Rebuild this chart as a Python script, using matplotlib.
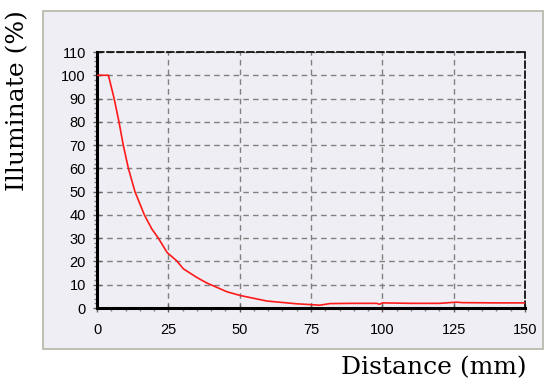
import matplotlib
matplotlib.use('Agg')
import matplotlib.pyplot as plt
from matplotlib.patches import Rectangle
from matplotlib.ticker import MultipleLocator

# Illumination vs distance
distance = [0, 4.0, 6.0, 7.7, 9.2, 11.0, 13.3, 16.6, 19.2, 21.5, 24.6, 27.9,
            30.3, 34.9, 38.4, 45.5, 50.1, 59.5, 70, 75.7, 78, 81.7, 90,
            98, 99, 100, 110, 120, 126, 128, 140, 150]
illuminate = [100, 100, 90, 80, 70, 60, 50, 40, 34, 30, 23.8, 20.3,
              16.8, 13.2, 10.8, 7.0, 5.4, 3.0, 1.8, 1.4, 1.2, 1.9, 2.0,
              2.0, 1.6, 2.2, 2.0, 2.0, 2.5, 2.3, 2.2, 2.2]

x_ticks = [0, 25, 50, 75, 100, 125, 150]
y_ticks = list(range(0, 111, 10))

fig = plt.figure(figsize=(5.54, 3.87), dpi=100)
fig.patch.set_facecolor('white')

# light panel behind the plot
panel = Rectangle((43 / 554, 1 - 349 / 387), 500 / 554, 338 / 387,
                  transform=fig.transFigure, facecolor='#eeeef4',
                  edgecolor='#b4b4a8', linewidth=1.2, zorder=-5)
fig.patches.append(panel)

ax = fig.add_axes([97 / 554, 1 - 308 / 387, 428 / 554, 256 / 387])
ax.set_zorder(2)
ax.set_facecolor('none')

ax.plot(distance, illuminate, color='#ff1a1a', linewidth=1.2, zorder=5)

ax.set_xlim(0, 150)
ax.set_ylim(0, 110)
ax.set_xticks(x_ticks)
ax.set_yticks(y_ticks)
ax.xaxis.set_minor_locator(MultipleLocator(5))
ax.yaxis.set_minor_locator(MultipleLocator(2))

ax.grid(True, which='major', color='#808080', linestyle=(0, (4, 3)), linewidth=1)
ax.set_axisbelow(True)

for side in ['left', 'bottom']:
    ax.spines[side].set_linewidth(2.2)
    ax.spines[side].set_color('black')
for side in ['top', 'right']:
    ax.spines[side].set_linestyle((0, (4, 2)))
    ax.spines[side].set_linewidth(1.2)
    ax.spines[side].set_color('black')

ax.tick_params(axis='both', which='major', direction='inout', length=6,
               width=1, color='#606060', labelsize=10.5)
ax.tick_params(axis='x', which='major', pad=8)
ax.tick_params(axis='y', which='major', pad=5)
ax.tick_params(axis='both', which='minor', direction='out', length=2.5,
               width=1, color='#808080')
for lbl in ax.get_xticklabels() + ax.get_yticklabels():
    lbl.set_fontfamily('Liberation Sans')

fig.text(18 / 554, 1 - 101 / 387, 'Illuminate (%)', rotation=90,
         ha='center', va='center', fontsize=18, family='DejaVu Serif')
fig.text(527 / 554, 1 - 368 / 387, 'Distance (mm)', ha='right',
         va='center', fontsize=18, family='DejaVu Serif')

plt.savefig('out.png', dpi=100)
plt.close()
